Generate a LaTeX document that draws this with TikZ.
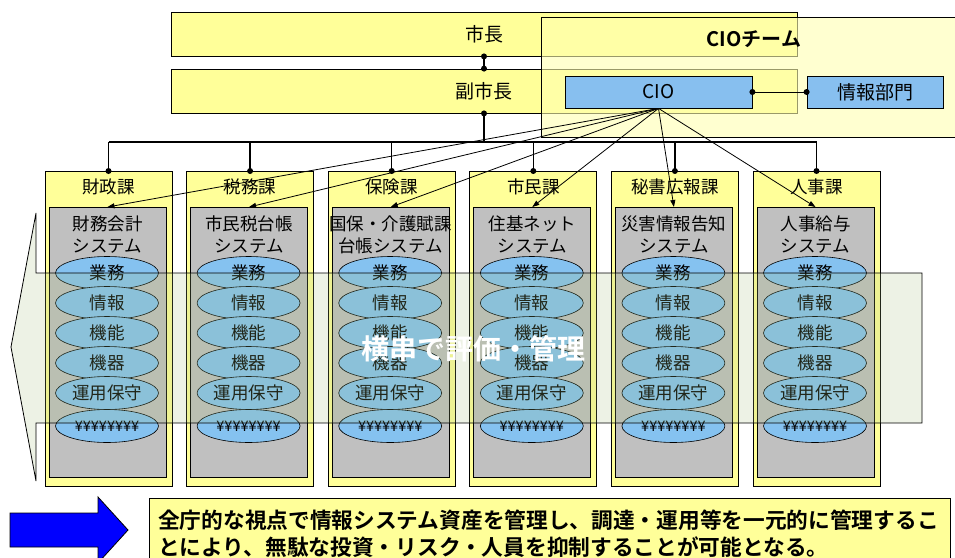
\documentclass[tikz,border=0pt]{standalone}
\usepackage{fontspec}
\setmainfont{Noto Sans CJK JP}[BoldFont={Noto Sans CJK JP Bold}]
\usetikzlibrary{arrows.meta,shapes.geometric}

\definecolor{lyellow}{HTML}{FFFF99}
\definecolor{teamyellow}{HTML}{FFFFB0}
\definecolor{cioblue}{HTML}{87BFEF}
\definecolor{ellblue}{HTML}{85C2F0}
\definecolor{sysgray}{HTML}{C0C0C0}
\definecolor{arrowgreen}{RGB}{165,190,125}
\definecolor{bigblue}{HTML}{0000FF}

\tikzset{
  box/.style={draw=black, line width=0.8pt, inner sep=0pt},
  ybox/.style={box, fill=lyellow},
  bbox/.style={box, fill=cioblue},
  dotc/.style={circle, fill=black, inner sep=0pt, minimum size=6pt},
  busline/.style={line width=1.5pt},
  cioarrow/.style={line width=0.8pt, -{Triangle[length=7pt,width=5pt]}},
  ell/.style={ellipse, draw=black, line width=0.6pt, fill=ellblue, minimum width=103pt, minimum height=33pt, inner sep=0pt, font=\fontsize{17.5}{17.5}\selectfont},
  yen/.style={ell, font=\fontsize{14.5}{14.5}\selectfont},
  lbl/.style={font=\fontsize{17.5}{17.5}\selectfont, inner sep=0pt},
  big/.style={font=\fontsize{19}{19}\selectfont},
}

\begin{document}
\begin{tikzpicture}[x=1pt,y=-1pt]
\useasboundingbox (0,0) rectangle (955,557);

% mayor / vice mayor
\node[ybox, big, minimum width=626pt, minimum height=44pt] (mayor) at (484,34) {市長};
\node[ybox, big, minimum width=626pt, minimum height=44pt] (vice) at (484,91) {副市長};

% CIO team (translucent)
\node[draw=black, line width=0.8pt, fill=teamyellow, fill opacity=0.6, minimum width=419pt, minimum height=120pt, anchor=north west, inner sep=0pt] (team) at (541,17) {};
\node[font=\fontsize{20}{20}\selectfont\bfseries, inner sep=0pt] (teamt) at (754,39) {CIOチーム};

\node[bbox, big, minimum width=187pt, minimum height=32pt] (cio) at (658.5,92) {CIO};
\node[bbox, big, minimum width=136pt, minimum height=32pt] (info) at (875,92) {情報部門};

\draw[line width=1pt] (cio.east) -- (info.west);
\node[dotc] at (cio.east) {};
\node[dotc] at (info.west) {};

\draw[busline] (mayor.south) -- (vice.north);
\node[dotc] at (mayor.south) {};
\node[dotc] at (vice.north) {};

% bus
\coordinate (busL) at (108.5,142);
\coordinate (busR) at (816.5,142);
\draw[busline] (busL) -- (busR);
\draw[busline] (vice.south) -- (vice.south |- busL);
\node[dotc] at (vice.south) {};

% departments
\foreach \i/\dept/\la/\lb in {0/財政課/財務会計/システム, 1/税務課/市民税台帳/システム, 2/保険課/国保・介護賦課/台帳システム, 3/市民課/住基ネット/システム, 4/秘書広報課/災害情報告知/システム, 5/人事課/人事給与/システム}{
  \pgfmathsetmacro\cx{108.5+141.6*\i}
  \node[ybox, minimum width=127pt, minimum height=315pt, anchor=north] (d\i) at (\cx,171) {};
  \draw[busline] (d\i.north |- busL) -- (d\i.north);
  \node[dotc] at (d\i.north) {};
  \node[lbl] (dl\i) at (\cx,187) {\dept};
  \node[box, fill=sysgray, minimum width=117pt, minimum height=270pt, anchor=north] (s\i) at (\cx-1,207) {};
  \node[lbl] (sa\i) at (\cx-1,224) {\la};
  \node[lbl] (sb\i) at (\cx-1,246) {\lb};
  \node[ell] (ea\i) at (\cx-1.5,273) {業務};
  \node[ell] (eb\i) at (\cx-1.5,303) {情報};
  \node[ell] (ec\i) at (\cx-1.5,333) {機能};
  \node[ell] (ed\i) at (\cx-1.5,363) {機器};
  \node[ell] (ee\i) at (\cx-1.5,393) {運用保守};
  \node[yen] (ef\i) at (\cx-1.5,426) {¥¥¥¥¥¥¥¥};
}

% CIO arrows
\foreach \i in {0,...,5}{
  \draw[cioarrow] (cio.south) -- (s\i.north);
}

% big translucent arrow
\draw[line width=0.8pt, fill=arrowgreen, fill opacity=0.2]
  (922,273) -- (36,273) -- (36,213) -- (11,347) -- (36,481) -- (36,423) -- (922,423) -- cycle;
\node[text=white, font=\fontsize{28}{28}\selectfont\bfseries, inner sep=0pt] (bigt) at (473,349) {横串で評価・管理};

% bottom
\draw[line width=0.8pt, fill=bigblue]
  (10,513) -- (98,513) -- (98,497) -- (128,530) -- (98,563) -- (98,547) -- (10,547) -- cycle;
\node[ybox, minimum width=801pt, minimum height=70pt, anchor=north west] (msgbox) at (149,498) {};
\node[anchor=west, inner sep=0pt, font=\fontsize{21.7}{21.7}\selectfont\bfseries] (msg1) at (158,520) {全庁的な視点で情報システム資産を管理し、調達・運用等を一元的に管理するこ};
\node[anchor=west, inner sep=0pt, font=\fontsize{21.7}{21.7}\selectfont\bfseries] (msg2) at (158,547) {とにより、無駄な投資・リスク・人員を抑制することが可能となる。};
\end{tikzpicture}
\end{document}
